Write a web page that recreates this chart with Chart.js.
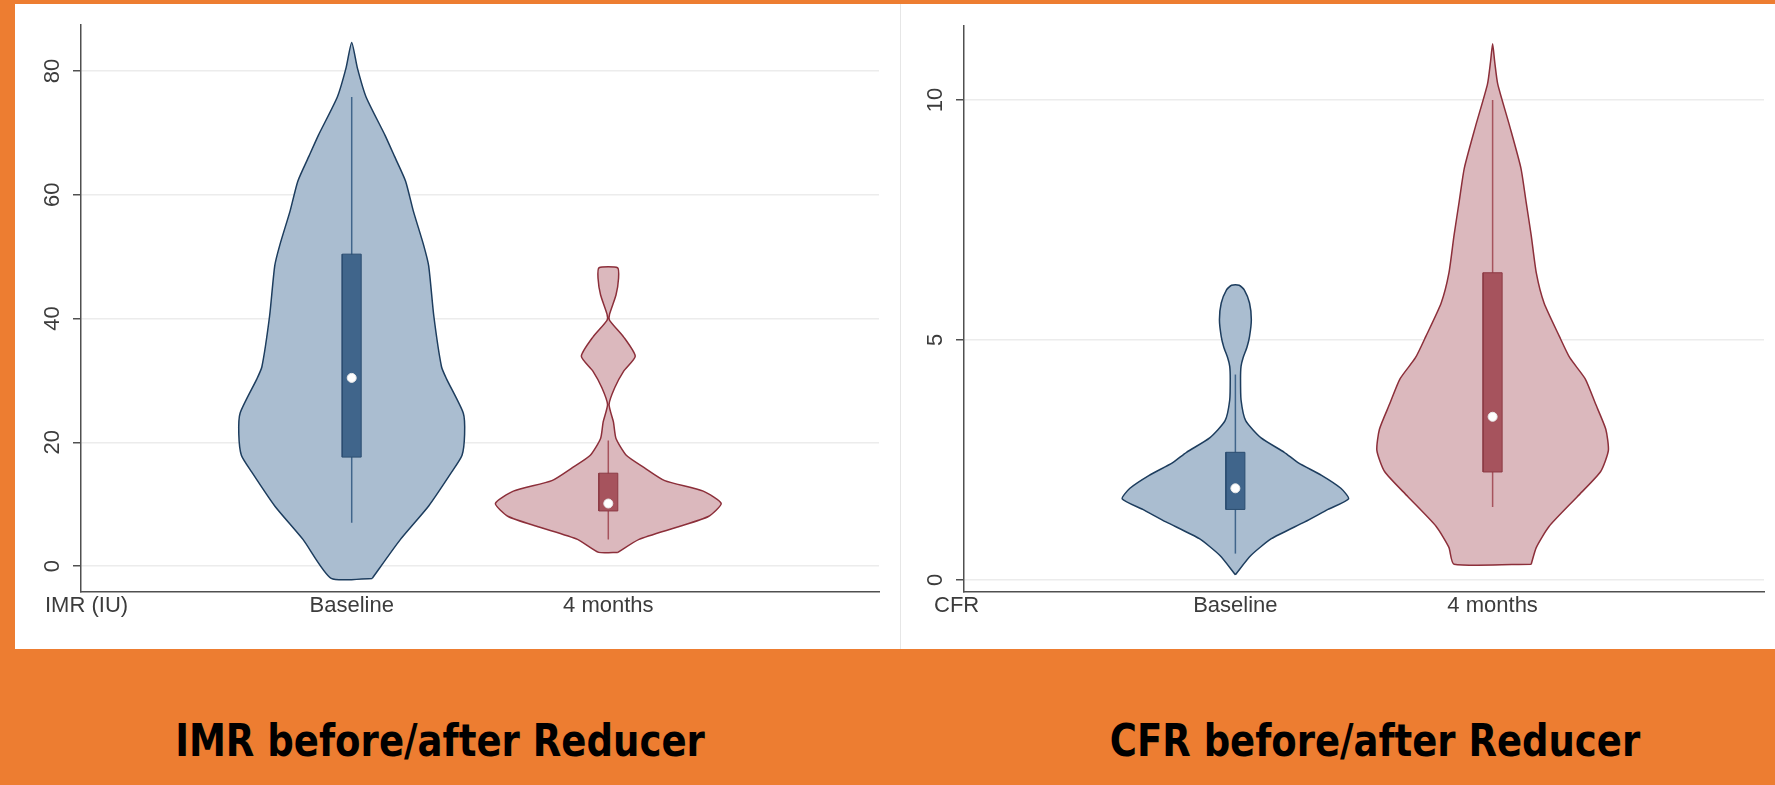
<!DOCTYPE html>
<html>
<head>
<meta charset="utf-8">
<script src="https://cdn.jsdelivr.net/npm/chart.js@4.4.1/dist/chart.umd.min.js"></script>
<style>
  body { margin: 0; width: 1775px; height: 785px; position: relative; background: #fff; overflow: hidden; }
  .band { position: absolute; background: #ED7D31; }
  canvas { position: absolute; }
  .cap { position: absolute; top: 718px; font: bold 45px "DejaVu Sans", Verdana, sans-serif; line-height: 45px;
         white-space: nowrap; color: #000; }
</style>
</head>
<body>
<div class="band" style="left:0;top:0;width:1775px;height:4px"></div>
<div class="band" style="left:0;top:0;width:15px;height:785px"></div>
<div class="band" style="left:0;top:649px;width:1775px;height:136px"></div>
<div style="position:absolute;left:900px;top:4px;width:1px;height:645px;background:#e6e6e6"></div>
<canvas id="imrChart" width="885" height="645" style="left:15px;top:4px"></canvas>
<canvas id="cfrChart" width="874" height="645" style="left:901px;top:4px"></canvas>
<div class="cap" id="capImr" style="left:440px">IMR before/after Reducer</div>
<div class="cap" id="capCfr" style="left:1375px">CFR before/after Reducer</div>

<script>
const categories = ['Baseline', '4 months'];
const imrTicks = [0, 20, 40, 60, 80];
const cfrTicks = [0, 5, 10];

// violin outlines: y values (bottom to top) and half widths in category units
const imrBaseY = [-2.0, 4.3, 9.7, 15.2, 17.9, 21.3, 24.7, 30.2, 32.2, 40.4, 48.5, 51.9, 57.4, 62.2, 66.2, 69.6, 75.8, 80.5, 84.6];
const imrBaseW = [0.08, 0.19, 0.30, 0.39, 0.43, 0.44, 0.435, 0.37, 0.35, 0.32, 0.30, 0.28, 0.24, 0.21, 0.167, 0.13, 0.056, 0.022, 0];
const imr4mY = [2.2, 4.3, 6.3, 8.0, 10.1, 12.1, 13.8, 15.9, 17.9, 20.6, 23.3, 26.1, 28.8, 31.5, 33.9, 37.0, 39.7, 40.7, 43.8, 46.5, 48.2];
const imr4mW = [0.037, 0.12, 0.27, 0.39, 0.44, 0.37, 0.22, 0.14, 0.07, 0.03, 0.02, 0.003, 0.025, 0.06, 0.105, 0.06, 0.005, 0.005, 0.03, 0.04, 0.036];

const cfrBaseY = [0.11, 0.51, 0.86, 1.21, 1.47, 1.69, 1.91, 2.18, 2.44, 2.66, 2.96, 3.32, 3.75, 4.19, 4.45, 4.63, 4.85, 5.07, 5.42, 5.77, 6.04, 6.14];
const cfrBaseW = [0, 0.06, 0.14, 0.27, 0.36, 0.44, 0.41, 0.335, 0.245, 0.19, 0.10, 0.04, 0.022, 0.02, 0.022, 0.03, 0.045, 0.055, 0.062, 0.055, 0.035, 0.015];
const cfr4mY = [0.33, 0.68, 1.12, 1.74, 2.26, 2.70, 3.14, 3.67, 4.19, 4.63, 5.07, 5.77, 6.39, 7.18, 7.88, 8.58, 9.46, 10.33, 10.8, 11.17];
const cfr4mW = [0.15, 0.17, 0.22, 0.33, 0.42, 0.45, 0.44, 0.40, 0.36, 0.30, 0.26, 0.20, 0.17, 0.15, 0.13, 0.11, 0.066, 0.02, 0.008, 0];

// box plot stats [Baseline, 4 months]
const imrQ1 = [17.6, 8.9];
const imrQ3 = [50.4, 15.0];
const imrMedian = [30.4, 10.1];
const imrLow = [7.0, 4.3];
const imrHigh = [75.8, 20.3];

const cfrQ1 = [1.47, 2.25];
const cfrQ3 = [2.66, 6.40];
const cfrMedian = [1.91, 3.40];
const cfrLow = [0.55, 1.52];
const cfrHigh = [4.28, 10.0];

const colors = [
    { fill: '#aabdd0', line: '#1d3d5e', box: '#40658b', boxLine: '#2b4d70' },
    { fill: '#dbb8bd', line: '#8c2f3a', box: '#a6535d', boxLine: '#8c3a44' }
];

Chart.defaults.font.family = '"Liberation Sans", Arial, sans-serif';
Chart.defaults.color = '#3c3c3c';

function violinPoints(center, ys, ws) {
    const pts = [];
    for (let i = 0; i < ys.length; i++) pts.push({ x: center + ws[i], y: ys[i] });
    for (let i = ys.length - 1; i >= 0; i--) {
        if (ws[i] === 0 && (i === 0 || i === ys.length - 1)) continue;
        pts.push({ x: center - ws[i], y: ys[i] });
    }
    pts.push(pts[0]);
    return pts;
}

function boxPoints(center, q1, q3) {
    const hw = 0.037;
    return [
        { x: center - hw, y: q1 }, { x: center + hw, y: q1 },
        { x: center + hw, y: q3 }, { x: center - hw, y: q3 }, { x: center - hw, y: q1 }
    ];
}

const varLabel = {
    id: 'varLabel',
    afterDraw(chart, args, opts) {
        const { ctx, chartArea } = chart;
        ctx.save();
        ctx.font = '22px "Liberation Sans", Arial, sans-serif';
        ctx.fillStyle = '#3c3c3c';
        ctx.textAlign = 'left';
        ctx.textBaseline = 'middle';
        ctx.fillText(opts.text, chartArea.left - opts.offset, chartArea.bottom + 14);
        ctx.restore();
    }
};

function makeChart(id, violins, q1, q3, med, low, high, ticks, yMin, yMax, label, labelOffset, pad) {
    const datasets = [];
    violins.forEach((v, i) => {
        const c = i + 1;
        datasets.push({
            data: violinPoints(c, v[0], v[1]),
            borderColor: colors[i].line, backgroundColor: colors[i].fill,
            borderWidth: 1.5, fill: 'shape', tension: 0.2, pointRadius: 0, order: 4
        });
        datasets.push({
            data: [{ x: c, y: low[i] }, { x: c, y: high[i] }],
            borderColor: colors[i].box, borderWidth: 1.5, fill: false, pointRadius: 0, order: 3
        });
        datasets.push({
            data: boxPoints(c, q1[i], q3[i]),
            borderColor: colors[i].boxLine, backgroundColor: colors[i].box,
            borderWidth: 1, fill: 'shape', tension: 0, pointRadius: 0, order: 2
        });
    });
    datasets.push({
        data: med.map((m, i) => ({ x: i + 1, y: m })),
        showLine: false, pointRadius: 4.5, pointBackgroundColor: '#ffffff',
        pointBorderColor: '#e9e9e9', pointBorderWidth: 1, order: 1
    });

    return new Chart(document.getElementById(id), {
        type: 'line',
        data: { datasets },
        plugins: [varLabel],
        options: {
            responsive: false,
            animation: false,
            devicePixelRatio: 1,
            layout: { padding: pad },
            plugins: {
                legend: { display: false },
                tooltip: { enabled: false },
                varLabel: { text: label, offset: labelOffset }
            },
            scales: {
                x: {
                    type: 'linear',
                    min: -0.055,
                    max: 3.055,
                    afterBuildTicks: (s) => { s.ticks = categories.map((_, i) => ({ value: i + 1 })); },
                    afterFit: (s) => { s.height = 57; },
                    grid: { display: false, drawTicks: false },
                    border: { display: true, color: '#505050', width: 1.5 },
                    ticks: {
                        padding: 1,
                        font: { size: 22 },
                        color: '#3c3c3c',
                        maxRotation: 0,
                        callback: (v) => categories[v - 1]
                    }
                },
                y: {
                    min: yMin,
                    max: yMax,
                    afterBuildTicks: (s) => { s.ticks = ticks.map(v => ({ value: v })); },
                    afterFit: (s) => { s.width = pad.yWidth; },
                    grid: { color: '#ececec', lineWidth: 1.5, tickColor: '#505050', tickLength: 8 },
                    border: { display: true, color: '#505050', width: 1.5 },
                    ticks: {
                        padding: 8,
                        font: { size: 22 },
                        color: '#3c3c3c',
                        minRotation: 90,
                        maxRotation: 90,
                        crossAlign: 'center'
                    }
                }
            }
        }
    });
}

makeChart('imrChart', [[imrBaseY, imrBaseW], [imr4mY, imr4mW]],
    imrQ1, imrQ3, imrMedian, imrLow, imrHigh, imrTicks, -4.2, 87.4, 'IMR (IU)', 36,
    { top: 21, right: 21, left: 0, bottom: 0, yWidth: 66 });

makeChart('cfrChart', [[cfrBaseY, cfrBaseW], [cfr4mY, cfr4mW]],
    cfrQ1, cfrQ3, cfrMedian, cfrLow, cfrHigh, cfrTicks, -0.25, 11.54, 'CFR', 30,
    { top: 22, right: 11, left: 0, bottom: 0, yWidth: 63 });

// captions are condensed in the slide, squeeze them to the same width
['capImr', 'capCfr'].forEach((id) => {
    const el = document.getElementById(id);
    const s = 530 / el.offsetWidth;
    el.style.transform = 'translateX(-50%) scaleX(' + s.toFixed(3) + ')';
});
</script>
</body>
</html>
